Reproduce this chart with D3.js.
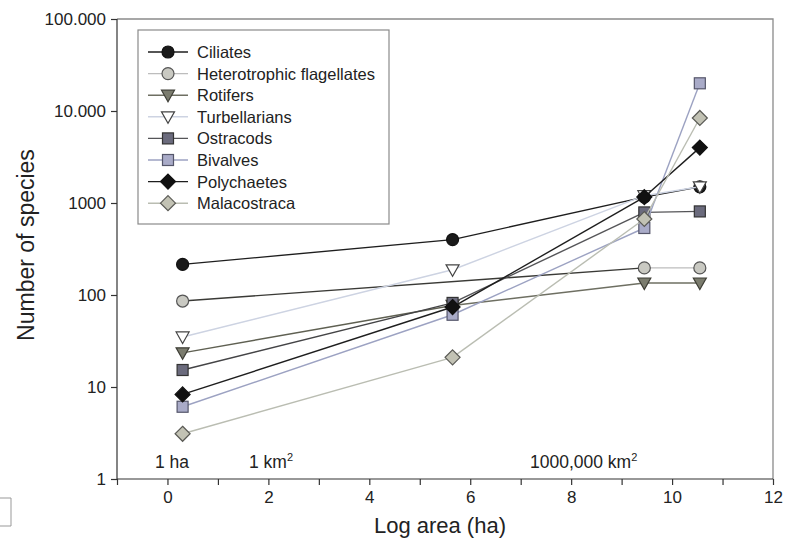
<!DOCTYPE html>
<html>
<head>
<meta charset="utf-8">
<script src="https://cdn.jsdelivr.net/npm/d3@7/dist/d3.min.js"></script>
<style>
  html, body { margin: 0; padding: 0; background: #fff; }
  svg { display: block; font-family: "Liberation Sans", Arial, sans-serif; }
</style>
</head>
<body>
<svg id="chart" width="792" height="546"></svg>
<script>
// ---- data ----
const logArea = [0.3, 5.65, 9.45, 10.55];
const seriesNames = ["Ciliates", "Heterotrophic flagellates", "Rotifers", "Turbellarians",
                     "Ostracods", "Bivalves", "Polychaetes", "Malacostraca"];
const ciliates      = [215, 400, 1160, 1500];
const heteroFlag    = [86, null, 197, 197];
const rotifers      = [23.5, 77, 135, 135];
const turbellarians = [35, 188, 1200, 1500];
const ostracods     = [15.3, 82, 790, 810];
const bivalves      = [6.1, 61, 535, 20000];
const polychaetes   = [8.3, 74, 1160, 4000];
const malacostraca  = [3.1, 21, 670, 8400];
const yTickValues = [1, 10, 100, 1000, 10000, 100000];
const yTickLabels = ["1", "10", "100", "1000", "10.000", "100.000"];
const xMajorTicks = [0, 2, 4, 6, 8, 10, 12];
const xMinorTicks = [-1, 1, 3, 5, 7, 9, 11];

const allValues = [ciliates, heteroFlag, rotifers, turbellarians, ostracods, bivalves, polychaetes, malacostraca];

// ---- styles ----
const styles = [
  {line: "#1e1e1e", first: "#1e1e1e", fill: "#1a1a1a", stroke: "#111", shape: "circle"},
  {line: "#bdbdbd", first: "#3a3a36", fill: "#c9c9c2", stroke: "#555", shape: "circle"},
  {line: "#6e6f62", first: "#5f6052", fill: "#7b7c6e", stroke: "#3e3e36", shape: "tri"},
  {line: "#cdd3e2", first: "#cdd3e2", fill: "#ffffff", stroke: "#444", shape: "tri"},
  {line: "#555558", first: "#444446", fill: "#6b6b7d", stroke: "#333", shape: "square"},
  {line: "#9ca2c2", first: "#9ca2c2", fill: "#a9abc8", stroke: "#55566a", shape: "square"},
  {line: "#1e1e1e", first: "#1e1e1e", fill: "#111", stroke: "#111", shape: "diamond"},
  {line: "#babdb2", first: "#babdb2", fill: "#c2c2b4", stroke: "#5a5a55", shape: "diamond"}
];

const svg = d3.select("#chart");
const x = d3.scaleLinear().domain([-1, 12]).range([117, 773]);
const y = d3.scaleLog().domain([1, 100000]).range([479, 19]);

// frame (top & right)
svg.append("path")
  .attr("d", `M${x(-1)},${y(100000)}H${x(12)}V${y(1)}`)
  .attr("fill", "none").attr("stroke", "#8a8a8a").attr("stroke-width", 1.3);

// x axis
const xAxis = svg.append("g").attr("transform", `translate(0,${y(1)})`);
xAxis.call(d3.axisBottom(x).tickValues(xMajorTicks).tickSize(6).tickPadding(6).tickFormat(d3.format("d")));
const xMinor = svg.append("g").attr("transform", `translate(0,${y(1)})`);
xMinor.call(d3.axisBottom(x).tickValues(xMinorTicks).tickSize(6).tickFormat(""));
xMinor.select(".domain").remove();
xAxis.select(".domain").attr("d", `M${x(-1)},0H${x(12)}`);

// y axis
const yAxis = svg.append("g").attr("transform", `translate(${x(-1)},0)`);
yAxis.call(d3.axisLeft(y).tickValues(yTickValues).tickSize(6).tickPadding(5)
  .tickFormat((d, i) => yTickLabels[i]));
yAxis.select(".domain").attr("d", `M0,${y(100000)}V${y(1)}`);

svg.selectAll(".tick text").attr("font-size", 17).attr("fill", "#222")
  .attr("font-family", "'Liberation Sans', Arial, sans-serif");
svg.selectAll(".domain, .tick line").attr("stroke", "#333").attr("stroke-width", 1.2);

// axis titles
svg.append("text").attr("x", x(5.4)).attr("y", 533).attr("text-anchor", "middle")
  .attr("font-size", 22).attr("fill", "#222").text("Log area (ha)");
svg.append("text").attr("transform", `translate(34,${245}) rotate(-90)`).attr("text-anchor", "middle")
  .attr("font-size", 23).attr("fill", "#222").text("Number of species");

// annotations
const ann = svg.append("g").attr("font-size", 17.5).attr("fill", "#222");
ann.append("text").attr("x", 155).attr("y", 468).text("1 ha");
const km1 = ann.append("text").attr("x", 249).attr("y", 468);
km1.append("tspan").text("1 km");
km1.append("tspan").attr("dy", -7).attr("font-size", 11).text("2");
const km2 = ann.append("text").attr("x", 530).attr("y", 468);
km2.append("tspan").text("1000,000 km");
km2.append("tspan").attr("dy", -7).attr("font-size", 11).text("2");

// marker
function drawMarker(g, shape, cx, cy, st) {
  let el;
  if (shape === "circle") {
    el = g.append("circle").attr("cx", cx).attr("cy", cy).attr("r", 6);
  } else if (shape === "square") {
    el = g.append("rect").attr("x", cx - 5.5).attr("y", cy - 5.5).attr("width", 11).attr("height", 11);
  } else if (shape === "tri") {
    el = g.append("path").attr("d", `M${cx - 6.5},${cy - 5}L${cx + 6.5},${cy - 5}L${cx},${cy + 6.5}Z`);
  } else {
    el = g.append("path").attr("d", `M${cx},${cy - 7.5}L${cx + 7.5},${cy}L${cx},${cy + 7.5}L${cx - 7.5},${cy}Z`);
  }
  el.attr("fill", st.fill).attr("stroke", st.stroke).attr("stroke-width", 1.2);
}

// series
const line = d3.line().x(d => x(d[0])).y(d => y(d[1]));
const plot = svg.append("g");
allValues.forEach((vals, i) => {
  const st = styles[i];
  const pts = logArea.map((a, j) => [a, vals[j]]).filter(d => d[1] != null);
  const g = plot.append("g");
  for (let k = 0; k < pts.length - 1; k++) {
    g.append("path").attr("d", line([pts[k], pts[k + 1]])).attr("fill", "none")
      .attr("stroke", k === 0 ? st.first : st.line).attr("stroke-width", 1.4);
  }
  pts.forEach(p => drawMarker(g, st.shape, x(p[0]), y(p[1]), st));
});

// legend
const leg = svg.append("g");
leg.append("rect").attr("x", 138).attr("y", 30).attr("width", 251).attr("height", 194)
  .attr("fill", "#fff").attr("stroke", "#8a8a8a").attr("stroke-width", 1.2);
seriesNames.forEach((name, i) => {
  const st = styles[i];
  const yy = 52 + i * 21.6;
  leg.append("line").attr("x1", 148).attr("x2", 188).attr("y1", yy).attr("y2", yy)
    .attr("stroke", st.line).attr("stroke-width", 1.4);
  drawMarker(leg, st.shape, 168, yy, st);
  leg.append("text").attr("x", 197).attr("y", yy + 6).attr("font-size", 16.5)
    .attr("fill", "#222").text(name);
});

// small bracket at bottom-left edge
svg.append("path").attr("d", "M0,498H11V526H0").attr("fill", "none")
  .attr("stroke", "#999").attr("stroke-width", 1);
</script>
</body>
</html>
